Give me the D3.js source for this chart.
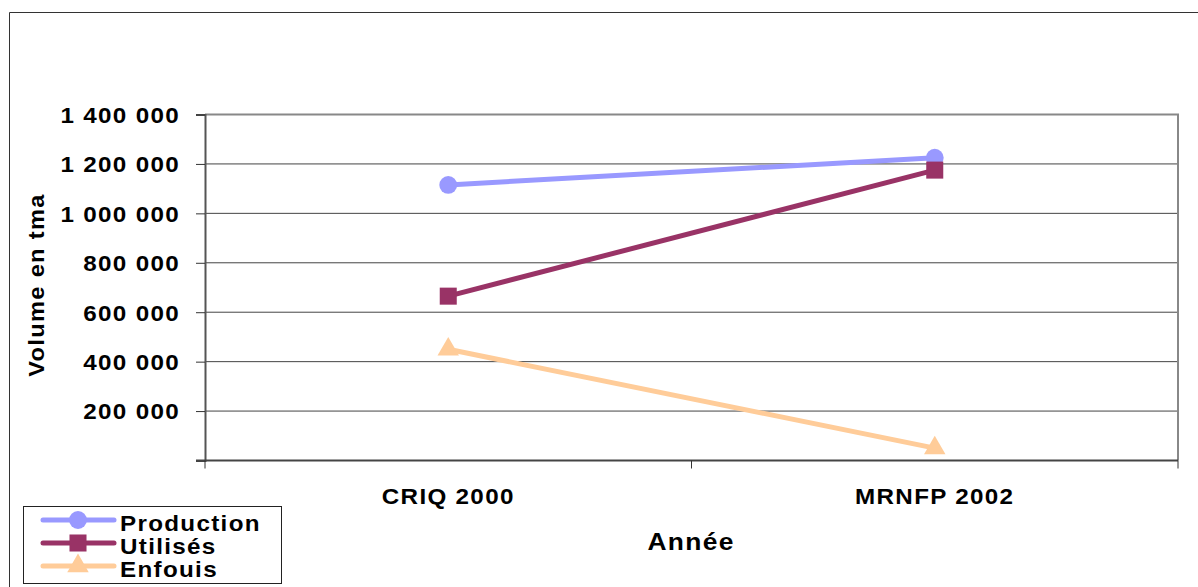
<html>
<head>
<meta charset="utf-8">
<title>Volume en tma</title>
<style>
  body { margin: 0; background: #fff; }
  text { font-family: "Liberation Sans", Arial, sans-serif; font-weight: bold; fill: #000; }
</style>
<script src="https://d3js.org/d3.v7.min.js"></script>
</head>
<body>
<svg width="1198" height="587"></svg>
<script>
// data
var categories = ["CRIQ 2000", "MRNFP 2002"];
var production = [1115000, 1225000];
var utilises = [665000, 1175000];
var enfouis = [450000, 50000];
var yTicks = [0, 200000, 400000, 600000, 800000, 1000000, 1200000, 1400000];
var seriesNames = ["Production", "Utilisés", "Enfouis"];

var series = [
  {name: seriesNames[0], values: production, color: "#9999ff", symbol: d3.symbolCircle, size: 250},
  {name: seriesNames[1], values: utilises, color: "#993366", symbol: d3.symbolSquare, size: 290},
  {name: seriesNames[2], values: enfouis, color: "#ffcc99", symbol: d3.symbolTriangle, size: 200}
];

// text in the original is a bit wider and more spaced than Arial
var SX = 1.1, LS = "1.2px";
function wide(sel, x, y, rot) {
  sel.attr("transform", `translate(${x},${y})` + (rot ? ` rotate(${rot})` : "") + ` scale(${SX},1)`)
    .attr("letter-spacing", LS);
  return sel;
}

var svg = d3.select("svg");

// outer frame (only top and left visible)
svg.append("path")
  .attr("d", "M9.5,590 V12.5 H1210")
  .attr("fill", "none")
  .attr("stroke", "#333")
  .attr("stroke-width", 1);

var plot = {left: 205, top: 114.5, right: 1178, bottom: 460.5};

var x = d3.scaleBand().domain(categories).range([plot.left, plot.right]);
var y = d3.scaleLinear().domain([0, 1400000]).range([plot.bottom, plot.top]);

// gridlines
svg.append("g").selectAll("line")
  .data(yTicks.filter(d => d > 0 && d < 1400000))
  .enter().append("line")
  .attr("x1", plot.left).attr("x2", plot.right)
  .attr("y1", d => y(d)).attr("y2", d => y(d))
  .attr("stroke", "#444").attr("stroke-width", 1);

// plot frame top/right
svg.append("path")
  .attr("d", `M${plot.left},${plot.top} H${plot.right} V${plot.bottom}`)
  .attr("fill", "none").attr("stroke", "#888").attr("stroke-width", 2);

// y axis
var yAxis = svg.append("g")
  .attr("transform", `translate(${plot.left},0)`)
  .call(d3.axisLeft(y).tickValues(yTicks).tickSize(9)
    .tickFormat(d => d === 0 ? "" : d3.format(",")(d).replace(/,/g, " ")));
yAxis.select(".domain").attr("stroke", "#555").attr("stroke-width", 2);
yAxis.selectAll(".tick line").attr("stroke", "#333");
yAxis.selectAll("text")
  .attr("font-size", 22)
  .attr("fill", "#000").attr("font-family", null)
  .attr("x", -25 / SX)
  .attr("dy", "0.36em")
  .attr("letter-spacing", LS)
  .attr("transform", `scale(${SX},1)`);

// x axis
var bounds = [plot.left].concat(categories.map(c => x(c) + x.bandwidth()));
var xg = svg.append("g");
xg.append("line")
  .attr("x1", plot.left - 9).attr("x2", plot.right)
  .attr("y1", plot.bottom).attr("y2", plot.bottom)
  .attr("stroke", "#444").attr("stroke-width", 2);
xg.selectAll(".xt").data(bounds).enter().append("line")
  .attr("x1", d => d).attr("x2", d => d)
  .attr("y1", plot.bottom).attr("y2", plot.bottom + 8)
  .attr("stroke", "#333");
xg.selectAll(".xl").data(categories).enter().append("text")
  .each(function(d) { wide(d3.select(this), x(d) + x.bandwidth() / 2, 504); })
  .attr("text-anchor", "middle")
  .attr("font-size", 22)
  .text(d => d);

// axis titles
wide(svg.append("text"), 691, 550)
  .attr("text-anchor", "middle")
  .attr("font-size", 24)
  .text("Année");
wide(svg.append("text"), 44, 285, -90)
  .attr("text-anchor", "middle")
  .attr("font-size", 21.5)
  .text("Volume en tma");

// lines and markers
var line = d3.line()
  .x((d, i) => x(categories[i]) + x.bandwidth() / 2)
  .y(d => y(d));

series.forEach(function(s) {
  var g = svg.append("g");
  g.append("path")
    .attr("d", line(s.values))
    .attr("fill", "none")
    .attr("stroke", s.color)
    .attr("stroke-width", 5);
  g.selectAll("path.m").data(s.values).enter().append("path")
    .attr("class", "m")
    .attr("transform", (d, i) => `translate(${x(categories[i]) + x.bandwidth() / 2},${y(d)})`)
    .attr("d", d3.symbol().type(s.symbol).size(s.size))
    .attr("fill", s.color);
});

// legend
var legend = svg.append("g");
legend.append("rect")
  .attr("x", 23.5).attr("y", 506.5).attr("width", 258).attr("height", 77)
  .attr("fill", "#fff").attr("stroke", "#222").attr("stroke-width", 1);
var rows = legend.selectAll(".row").data(series).enter().append("g")
  .attr("transform", (d, i) => `translate(0,${520 + i * 23})`);
rows.append("line")
  .attr("x1", 43).attr("x2", 114)
  .attr("stroke", d => d.color).attr("stroke-width", 5)
  .attr("stroke-linecap", "round");
rows.append("path")
  .attr("transform", "translate(78,0)")
  .attr("d", d => d3.symbol().type(d.symbol).size(d.size)())
  .attr("fill", d => d.color);
rows.append("text")
  .each(function() { wide(d3.select(this), 120, 11); })
  .attr("font-size", 22)
  .text(d => d.name);
</script>
</body>
</html>
